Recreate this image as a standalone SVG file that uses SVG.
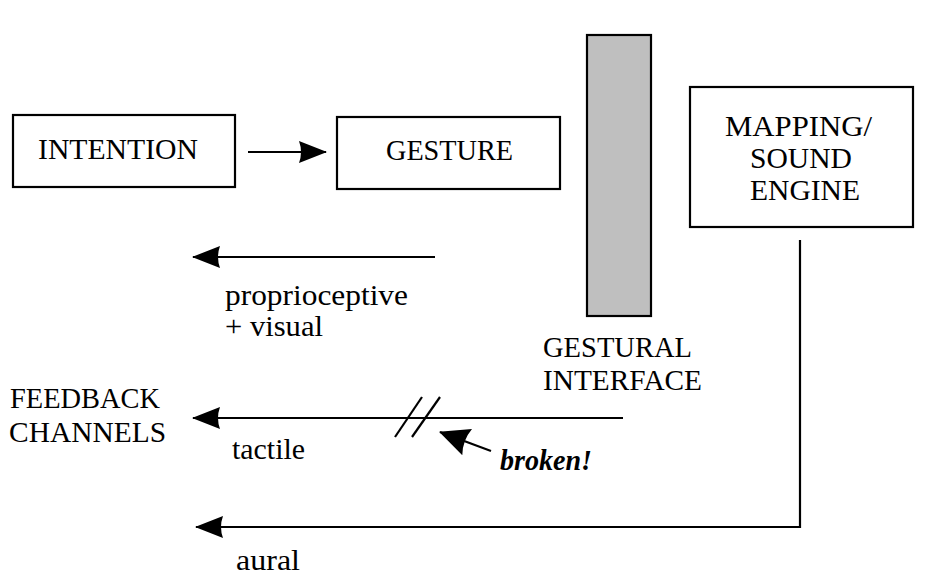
<svg xmlns="http://www.w3.org/2000/svg" width="926" height="580" viewBox="0 0 926 580">
<defs>
<style>
.box{fill:#fff;stroke:#000;stroke-width:2.2}
.bar{fill:#bfbfbf;stroke:#000;stroke-width:2.2}
.ln{fill:none;stroke:#000;stroke-width:2.2}
text{font-family:"Liberation Serif","Times New Roman",serif;font-size:29px;fill:#000}
.it{font-style:italic;font-weight:bold}
</style>
<marker id="ah" viewBox="0 0 28 22" markerWidth="28" markerHeight="22" refX="27" refY="11" orient="auto" markerUnits="userSpaceOnUse">
<path d="M0,0 L28,11 L0,22 Q4,11 0,0 z" fill="#000"/>
</marker>
<marker id="ah2" viewBox="0 0 30 28" markerWidth="30" markerHeight="28" refX="29" refY="14" orient="auto" markerUnits="userSpaceOnUse">
<path d="M0,0 L30,14 L0,28 Q5,14 0,0 z" fill="#000"/>
</marker>
</defs>
<rect width="926" height="580" fill="#fff"/>
<g id="intention">
<rect class="box" x="13" y="115" width="222" height="72"/>
<text x="38" y="159" textLength="160" lengthAdjust="spacingAndGlyphs">INTENTION</text>
</g>
<g id="gesture">
<rect class="box" x="337" y="117" width="223" height="72"/>
<text x="386" y="160" textLength="127" lengthAdjust="spacingAndGlyphs">GESTURE</text>
</g>
<g id="gestural-interface">
<rect class="bar" x="587" y="35" width="64" height="281"/>
<text x="543" y="357" textLength="149" lengthAdjust="spacingAndGlyphs">GESTURAL</text>
<text x="543" y="390" textLength="159" lengthAdjust="spacingAndGlyphs">INTERFACE</text>
</g>
<g id="mapping">
<rect class="box" x="690" y="87" width="223" height="140"/>
<text x="725" y="136" textLength="147" lengthAdjust="spacingAndGlyphs">MAPPING/</text>
<text x="750" y="168" textLength="102" lengthAdjust="spacingAndGlyphs">SOUND</text>
<text x="750" y="200" textLength="110" lengthAdjust="spacingAndGlyphs">ENGINE</text>
</g>
<g id="feedback">
<text x="10" y="408" textLength="150" lengthAdjust="spacingAndGlyphs">FEEDBACK</text>
<text x="9" y="442" textLength="157" lengthAdjust="spacingAndGlyphs">CHANNELS</text>
</g>
<g id="connectors">
<line class="ln" x1="248" y1="152" x2="326" y2="152" marker-end="url(#ah)"/>
<line class="ln" x1="435" y1="257" x2="193" y2="257" marker-end="url(#ah)"/>
<line class="ln" x1="623" y1="418" x2="193" y2="418" marker-end="url(#ah)"/>
<polyline class="ln" points="800,240 800,527 196,527" marker-end="url(#ah)"/>
<line class="ln" x1="395" y1="437" x2="422" y2="397"/>
<line class="ln" x1="412" y1="437" x2="440" y2="397"/>
<line class="ln" x1="491" y1="451" x2="440" y2="432" marker-end="url(#ah2)"/>
</g>
<g id="labels">
<text x="225" y="305" textLength="183" lengthAdjust="spacingAndGlyphs">proprioceptive</text>
<text x="225" y="336" textLength="98" lengthAdjust="spacingAndGlyphs">+ visual</text>
<text x="232" y="459" textLength="73" lengthAdjust="spacingAndGlyphs">tactile</text>
<text class="it" x="500" y="470" textLength="92" lengthAdjust="spacingAndGlyphs">broken!</text>
<text x="236" y="570" textLength="64" lengthAdjust="spacingAndGlyphs">aural</text>
</g>
</svg>
